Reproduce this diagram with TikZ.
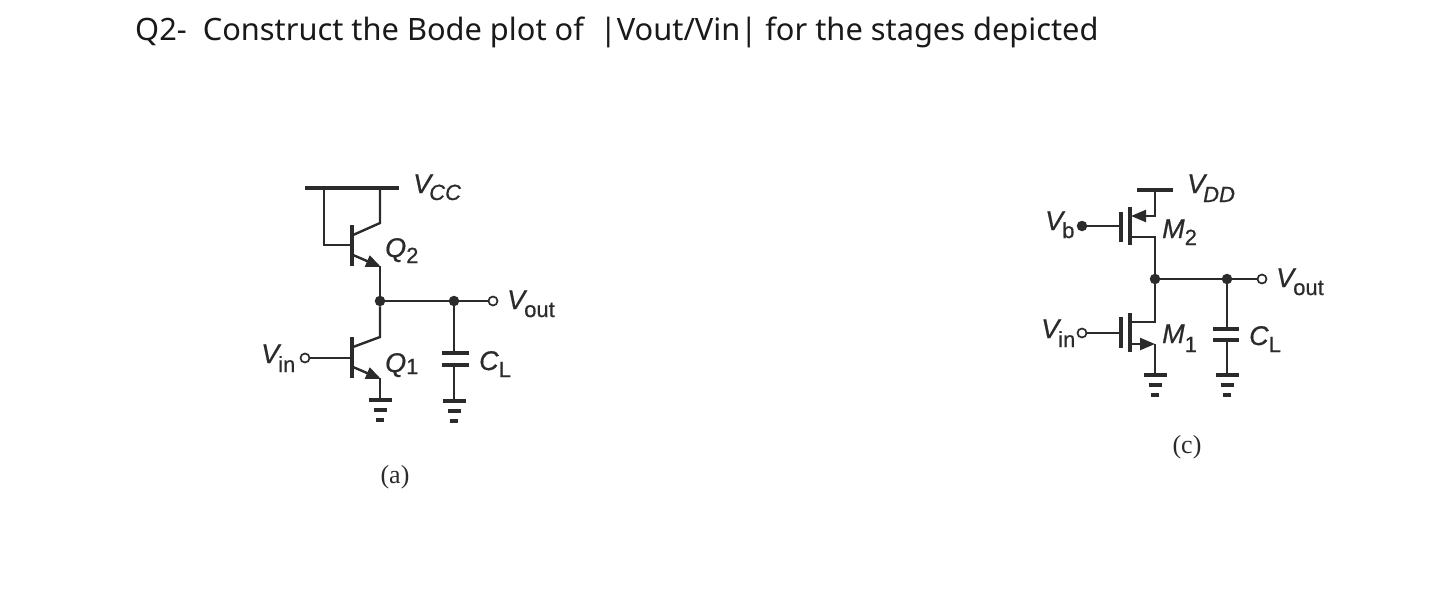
\documentclass[tikz,border=0pt]{standalone}
\usepackage{fontspec}
\setmainfont{Liberation Sans}[FakeBold=0.6,ItalicFeatures={FakeBold=0.6}]
\newfontfamily\titlefont{Noto Sans}
\newfontfamily\capfont{Liberation Serif}
\usetikzlibrary{arrows.meta}
\definecolor{ink}{HTML}{2B2B2B}
\newcommand{\lab}[4]{{\fontsize{27}{27}\selectfont\itshape #1}\kern#4pt\raisebox{-#3pt}{\fontsize{22}{22}\selectfont #2}}
\tikzset{
  x=1pt,y=-1pt,
  wire/.style={draw=ink,line width=2.4pt,line join=miter},
  bar/.style={draw=ink,line width=4.4pt},
  plate/.style={draw=ink,line width=3.6pt},
  tipwire/.style={wire,-{Triangle[length=15pt,width=12pt]}},
  dotnode/.style={circle,fill=ink,inner sep=0pt,minimum size=10.5pt},
  opennode/.style={circle,draw=ink,fill=white,line width=1.7pt,inner sep=0pt,minimum size=9pt},
  txt/.style={anchor=base west,inner sep=0pt,text=ink},
  capt/.style={text=ink,font=\capfont\fontsize{26}{26}\selectfont,inner sep=0pt},
  gnd/.pic={
    \draw[plate] (-11.5,0) -- (11.5,0);
    \draw[plate] (-6.5,10) -- (6.5,10);
    \draw[plate] (-4,20) -- (4,20);
  }
}
\begin{document}
\begin{tikzpicture}
\useasboundingbox (0,0) rectangle (1439,595);
\fill[white] (0,0) rectangle (1439,595);

\node[txt,text=black!90,font=\titlefont\fontsize{30.8}{30.8}\selectfont] (title) at (135,40)
  {Q2-\ \ Construct the Bode plot of \ |Vout/Vin| for the stages depicted};

% ---------- circuit (a)
\coordinate (vccL) at (305,188); \coordinate (vccR) at (399,188);
\coordinate (tieT) at (324,188); \coordinate (tieB) at (324,245);
\coordinate (b2) at (352,245);
\coordinate (b2t) at (352,225); \coordinate (b2b) at (352,266);
\coordinate (c2t) at (380,188); \coordinate (c2k) at (380,223); \coordinate (c2) at (353,235);
\coordinate (e2) at (353,255); \coordinate (e2k) at (381,267); \coordinate (e2w) at (380,266);
\node[dotnode] (na) at (380,301) {};
\node[dotnode] (oa) at (454,301) {};
\node[opennode] (va) at (493,301) {};
\coordinate (b1t) at (352,337); \coordinate (b1b) at (352,378);
\coordinate (c1k) at (380,337); \coordinate (c1) at (353,347);
\coordinate (e1) at (353,367); \coordinate (e1k) at (381,379); \coordinate (e1w) at (380,378);
\coordinate (g1) at (380,400);
\node[opennode] (ia) at (305,358) {};
\coordinate (b1) at (352,358);
\coordinate (cat) at (454,353); \coordinate (cab) at (454,365);
\coordinate (catl) at (442,353); \coordinate (catr) at (469,353);
\coordinate (cabl) at (442,365); \coordinate (cabr) at (469,365);
\coordinate (g2) at (454,401);

\draw[bar] (vccL) -- (vccR);
\draw[wire] (tieT) -- (tieB) -- (b2);
\draw[bar] (b2t) -- (b2b);
\draw[wire] (c2t) -- (c2k) -- (c2);
\draw[tipwire] (e2) -- (e2k);
\draw[wire] (e2w) -- (na);
\draw[wire] (na) -- (oa) -- (va);
\draw[wire] (na) -- (c1k) -- (c1);
\draw[bar] (b1t) -- (b1b);
\draw[tipwire] (e1) -- (e1k);
\draw[wire] (e1w) -- (g1);
\draw[wire] (ia) -- (b1);
\draw[wire] (oa) -- (cat);
\draw[plate] (catl) -- (catr);
\draw[plate] (cabl) -- (cabr);
\draw[wire] (cab) -- (g2);
\pic at (g1) {gnd};
\pic at (g2) {gnd};

\node[txt] (lvcc) at (413,193) {\lab{V}{\itshape CC}{7}{-2}};
\node[txt] (lq2) at (385,257) {\lab{Q}{2}{6}{0}};
\node[txt] (lvouta) at (507,309) {\lab{V}{out}{8}{-1}};
\node[txt] (lvina) at (261,363) {\lab{V}{in}{9}{-1}};
\node[txt] (lq1) at (385,372) {\lab{Q}{1}{2}{0}};
\node[txt] (lcla) at (479,370) {\lab{C}{L}{7}{0}};
\node[capt] (capa) at (395,477) {(a)};

% ---------- circuit (c)
\coordinate (vddL) at (1137,190); \coordinate (vddR) at (1173,190);
\coordinate (vddm) at (1155,190); \coordinate (s2k) at (1155,216); \coordinate (s2) at (1131,216);
\coordinate (s2a) at (1150,216);
\coordinate (ch2t) at (1130,207); \coordinate (ch2b) at (1130,245);
\coordinate (g2t) at (1121,212); \coordinate (g2b) at (1121,242); \coordinate (g2m) at (1121,226);
\node[dotnode] (vb) at (1082,226) {};
\coordinate (d2) at (1131,237); \coordinate (d2k) at (1155,237);
\node[dotnode] (nc) at (1155,279) {};
\node[dotnode] (oc) at (1227,279) {};
\node[opennode] (vc) at (1262,279) {};
\coordinate (ch1t) at (1130,313); \coordinate (ch1b) at (1130,352);
\coordinate (g1t) at (1121,317); \coordinate (g1b) at (1121,348); \coordinate (g1m) at (1121,333);
\node[opennode] (ic) at (1082,333) {};
\coordinate (d1k) at (1155,322); \coordinate (d1) at (1131,322);
\coordinate (s1) at (1131,344); \coordinate (s1k) at (1155,344);
\coordinate (g3) at (1155,375);
\coordinate (cct) at (1227,329); \coordinate (ccb) at (1227,340);
\coordinate (cctl) at (1213,329); \coordinate (cctr) at (1239,329);
\coordinate (ccbl) at (1213,340); \coordinate (ccbr) at (1239,340);
\coordinate (g4) at (1227,375);

\draw[plate] (vddL) -- (vddR);
\draw[wire] (vddm) -- (s2k) -- (s2a);
\draw[tipwire] (s2a) -- (s2);
\draw[plate] (ch2t) -- (ch2b);
\draw[plate] (g2t) -- (g2b);
\draw[wire] (vb) -- (g2m);
\draw[wire] (d2) -- (d2k) -- (nc);
\draw[wire] (nc) -- (oc) -- (vc);
\draw[wire] (nc) -- (d1k) -- (d1);
\draw[plate] (ch1t) -- (ch1b);
\draw[plate] (g1t) -- (g1b);
\draw[wire] (ic) -- (g1m);
\draw[tipwire] (s1) -- (s1k);
\draw[wire] (s1k) -- (g3);
\draw[wire] (oc) -- (cct);
\draw[plate] (cctl) -- (cctr);
\draw[plate] (ccbl) -- (ccbr);
\draw[wire] (ccb) -- (g4);
\pic at (g3) {gnd};
\pic at (g4) {gnd};

\node[txt] (lvdd) at (1187,193) {\lab{V}{\itshape DD}{9}{-2}};
\node[txt] (lvb) at (1045,230) {\lab{V}{b}{8}{-1}};
\node[txt] (lm2) at (1162,238) {\lab{M}{2}{7}{0}};
\node[txt] (lvoutc) at (1276,287) {\lab{V}{out}{8}{-1}};
\node[txt] (lvinc) at (1041,338) {\lab{V}{in}{9}{-1}};
\node[txt] (lm1) at (1162,343) {\lab{M}{1}{9}{0}};
\node[txt] (lclc) at (1249,345) {\lab{C}{L}{7}{0}};
\node[capt] (capc) at (1187,447) {(c)};
\end{tikzpicture}
\end{document}
